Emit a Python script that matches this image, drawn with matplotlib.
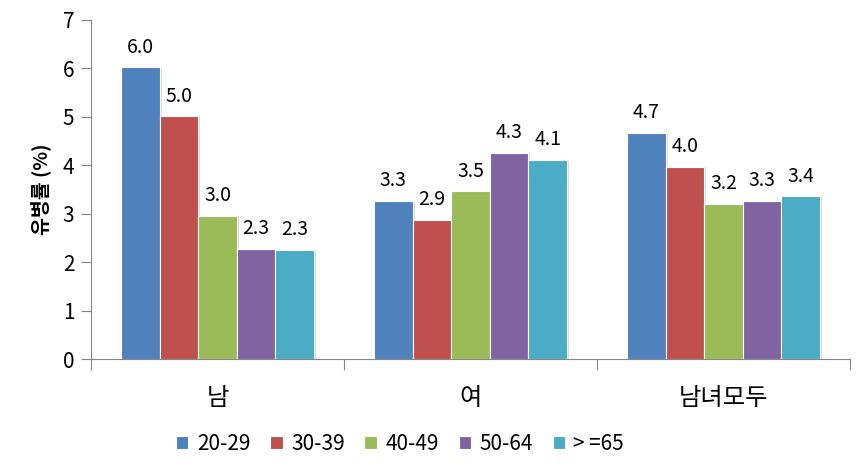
import matplotlib
matplotlib.use('Agg')
import matplotlib.pyplot as plt
import matplotlib.patheffects as pe
import numpy as np

plt.rcParams['font.family'] = ['Noto Sans CJK KR', 'DejaVu Sans']

groups = ['남', '여', '남녀모두']
series = ['20-29', '30-39', '40-49', '50-64', '> =65']
values = [
    [6.02, 3.26, 4.67],   # 20-29
    [5.01, 2.87, 3.97],   # 30-39
    [2.96, 3.46, 3.21],   # 40-49
    [2.28, 4.26, 3.26],   # 50-64
    [2.26, 4.11, 3.36],   # >=65
]
colors = ['#4F81BD', '#C0504D', '#9BBB59', '#8064A2', '#4BACC6']

fig = plt.figure(figsize=(8.64, 4.75), dpi=100)
ax = fig.add_axes([0.1053, 0.2442, 0.8785, 0.7137])

x = np.arange(len(groups))
width = 0.1526
shadow = [pe.SimplePatchShadow(offset=(1.5, -0.5), shadow_rgbFace='#bfbfbf', alpha=0.6), pe.Normal()]

for i, (name, vals) in enumerate(zip(series, values)):
    pos = x + (i - 2) * width
    bars = ax.bar(pos, vals, width, color=colors[i], edgecolor='white',
                  linewidth=0.8, label=name, zorder=2)
    for b in bars:
        b.set_path_effects(shadow)
    for px, v in zip(pos, vals):
        ax.annotate(f'{v:.1f}', (px, v), xytext=(0, 7), textcoords='offset points',
                    ha='center', va='bottom', fontsize=14, color='black')

ax.set_xlim(-0.5, 2.5)
ax.set_ylim(0, 7)
ax.set_yticks(range(0, 8))
ax.set_xticks([-0.5, 0.5, 1.5, 2.5], minor=False)
ax.set_xticklabels([])
ax.set_xticks(x, minor=True)
ax.set_xticklabels(groups, minor=True, fontsize=17.5)
ax.tick_params(axis='x', which='minor', length=0, pad=19)
ax.tick_params(axis='x', which='major', length=8, color='#868686', direction='out')
ax.tick_params(axis='y', length=7, color='#868686', labelsize=15, pad=5)

for s in ['top', 'right']:
    ax.spines[s].set_visible(False)
for s in ['left', 'bottom']:
    ax.spines[s].set_color('#868686')

ax.set_ylabel('유병률 (%)', fontsize=14, fontweight='bold', labelpad=8)

leg = fig.legend(loc='center', bbox_to_anchor=(0.463, 0.065), ncol=5, frameon=False,
                 fontsize=15, handlelength=0.6, handleheight=0.6, handletextpad=0.4,
                 columnspacing=0.95)
for h in leg.legend_handles:
    h.set_path_effects([])

fig.savefig('out.png', dpi=100)
